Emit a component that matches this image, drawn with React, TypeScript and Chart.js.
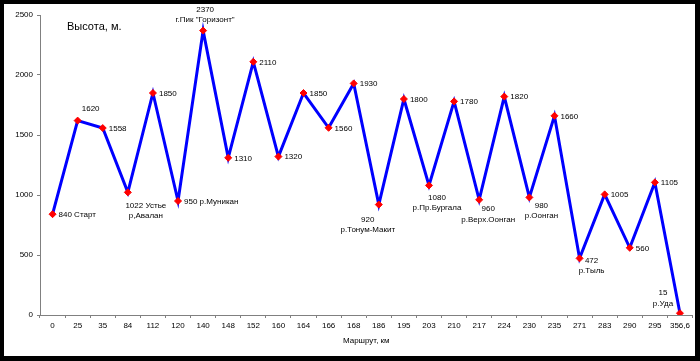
import React, { useEffect, useRef } from "react";
import { Chart, registerables } from "chart.js";

Chart.register(...registerables);

const categories = [
  "0", "25", "35", "84", "112", "120", "140", "148", "152", "160", "164", "166", "168",
  "186", "195", "203", "210", "217", "224", "230", "235", "271", "283", "290", "295", "356,6",
];

const elevations = [
  840, 1620, 1558, 1022, 1850, 950, 2370, 1310, 2110, 1320, 1850, 1560, 1930,
  920, 1800, 1080, 1780, 960, 1820, 980, 1660, 472, 1005, 560, 1105, 15,
];

const pointNotes: string[][] = [
  ["840 Старт"], ["1620"], ["1558"], ["1022 Устье", "р,Авалан"], ["1850"], ["950 р.Муникан"],
  ["2370", "г.Пик \"Горизонт\""], ["1310"], ["2110"], ["1320"], ["1850"], ["1560"], ["1930"],
  ["920", "р.Тонум-Макит"], ["1800"], ["1080", "р.Пр.Бургала"], ["1780"], ["960", "р.Верх.Оонган"],
  ["1820"], ["980", "р.Оонган"], ["1660"], ["472", "р.Тыль"], ["1005"], ["560"], ["1105"], ["15", "р.Уда"],
];

const yTicks = [0, 500, 1000, 1500, 2000, 2500];

const chartTitle = "Высота, м.";
const xTitle = "Маршрут, км";

// label placement style (offsets relative to the point, in px)
type Place = { align: CanvasTextAlign; dx: number; dy: number };
const defaultPlace: Place = { align: "left", dx: 6, dy: 0.5 };
const specialPlace: Record<number, Place> = {
  1: { align: "center", dx: 13, dy: -12 },
  3: { align: "center", dx: 18, dy: 13 },
  6: { align: "center", dx: 2, dy: -21 },
  13: { align: "center", dx: -11, dy: 15 },
  15: { align: "center", dx: 8, dy: 12 },
  17: { align: "center", dx: 9, dy: 9 },
  19: { align: "center", dx: 12, dy: 8 },
  21: { align: "center", dx: 12, dy: 2 },
  25: { align: "center", dx: -17, dy: -20 },
};

const FONT = "'Liberation Sans', Arial, sans-serif";

const notesPlugin = {
  id: "notes",
  afterDatasetsDraw(chart: any) {
    const ctx = chart.ctx as CanvasRenderingContext2D;
    const meta = chart.getDatasetMeta(0);
    ctx.save();
    ctx.fillStyle = "#000";
    ctx.font = `8px ${FONT}`;
    ctx.textBaseline = "middle";
    meta.data.forEach((pt: any, i: number) => {
      const place = specialPlace[i] || defaultPlace;
      ctx.textAlign = place.align;
      (pointNotes[i] || []).forEach((line, k) => {
        ctx.fillText(line, pt.x + place.dx, pt.y + place.dy + k * 10.5);
      });
    });
    // chart caption inside the plot area
    ctx.font = `11px ${FONT}`;
    ctx.textAlign = "left";
    ctx.fillText(chartTitle, chart.chartArea.left + 27, 27);
    ctx.restore();
  },
};

export default function App() {
  const ref = useRef<HTMLCanvasElement | null>(null);

  useEffect(() => {
    if (!ref.current) return;
    const chart = new Chart(ref.current, {
      type: "line",
      data: {
        labels: categories,
        datasets: [
          {
            data: elevations,
            borderColor: "#0000FF",
            borderWidth: 3,
            tension: 0,
            pointStyle: "rectRot",
            pointRadius: 3.5,
            pointBackgroundColor: "#FF0000",
            pointBorderColor: "#FF0000",
            pointBorderWidth: 1,
            fill: false,
          },
        ],
      },
      options: {
        animation: false,
        responsive: false,
        events: [],
        layout: { padding: { top: 15, right: 7.5, left: 0, bottom: 0 } },
        plugins: {
          legend: { display: false },
          tooltip: { enabled: false },
          title: { display: false },
        },
        scales: {
          x: {
            type: "category",
            offset: true,
            grid: {
              offset: true,
              drawOnChartArea: false,
              drawTicks: true,
              tickLength: 3,
              color: "#808080",
            },
            border: { display: true, color: "#808080", width: 1 },
            ticks: {
              autoSkip: false,
              maxRotation: 0,
              padding: 3,
              color: "#000",
              font: { family: FONT, size: 8 },
            },
            title: {
              display: true,
              text: xTitle,
              color: "#000",
              font: { family: FONT, size: 8 },
              padding: { top: 0, bottom: 15 },
            },
            afterFit: (s: any) => {
              s.height = 46;
            },
          },
          y: {
            min: 0,
            max: 2500,
            grid: {
              drawOnChartArea: false,
              drawTicks: true,
              tickLength: 3,
              color: "#808080",
            },
            border: { display: true, color: "#808080", width: 1 },
            ticks: {
              padding: 4,
              color: "#000",
              font: { family: FONT, size: 8 },
              callback: (v: any) => String(v),
            },
            afterBuildTicks: (s: any) => {
              s.ticks = yTicks.map((v) => ({ value: v }));
            },
            afterFit: (s: any) => {
              s.width = 40;
            },
          },
        },
      },
      plugins: [notesPlugin],
    });
    return () => chart.destroy();
  }, []);

  return (
    <div style={{ position: "absolute", left: 0, top: 0, width: 700, height: 361, background: "#000", overflow: "hidden" }}>
      <div style={{ position: "absolute", left: 4, top: 4, width: 691, height: 352, background: "#fff" }} />
      <canvas ref={ref} width={700} height={361} style={{ position: "absolute", left: 0, top: 0, width: 700, height: 361 }} />
    </div>
  );
}
